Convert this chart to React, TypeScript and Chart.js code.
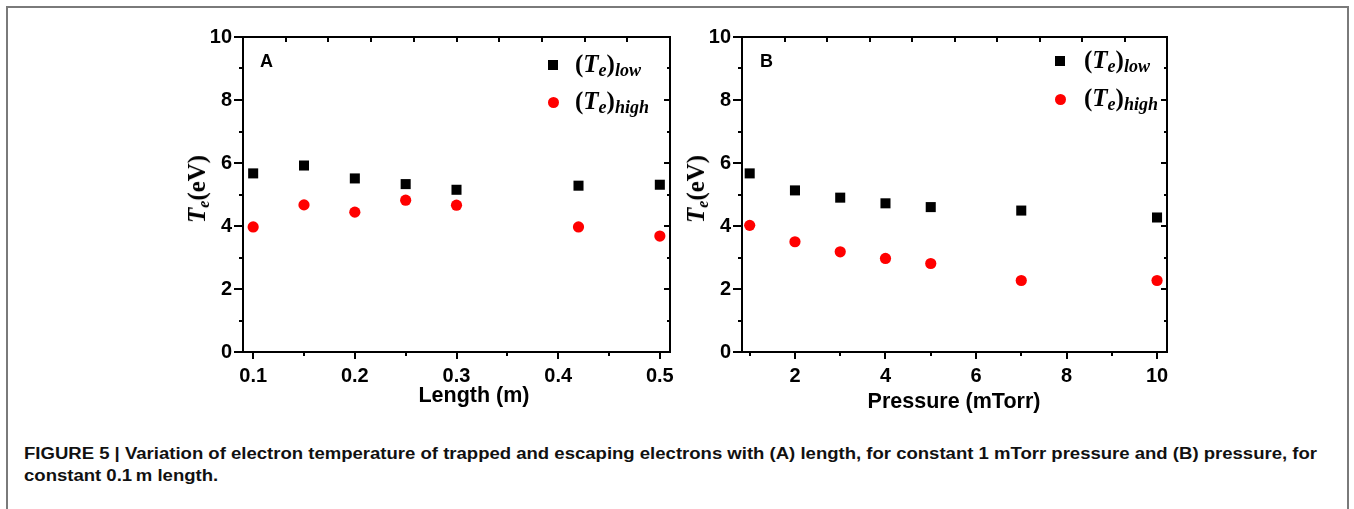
import React, { useEffect, useLayoutEffect, useRef, useState } from 'react';
import { Chart, registerables } from 'chart.js';

Chart.register(...registerables);

// ---------- data ----------
const LENGTH_M = [0.1, 0.15, 0.2, 0.25, 0.3, 0.42, 0.5];
const A_TE_LOW = [5.67, 5.92, 5.51, 5.33, 5.15, 5.28, 5.31];
const A_TE_HIGH = [3.97, 4.67, 4.44, 4.82, 4.66, 3.97, 3.68];

const PRESSURE_MTORR = [1, 2, 3, 4, 5, 7, 10];
const B_TE_LOW = [5.67, 5.13, 4.9, 4.72, 4.6, 4.49, 4.27];
const B_TE_HIGH = [4.02, 3.5, 3.18, 2.97, 2.81, 2.27, 2.27];

const A_X_TICKS = [0.1, 0.2, 0.3, 0.4, 0.5];
const A_X_MINOR = [0.15, 0.25, 0.35, 0.45];
const B_X_TICKS = [2, 4, 6, 8, 10];
const B_X_MINOR = [1, 3, 5, 7, 9];
const Y_TICKS = [0, 2, 4, 6, 8, 10];
const Y_MINOR = [1, 3, 5, 7, 9];
const TOP_DIVISIONS = 10;

const SANS = "'Liberation Sans', Arial, Helvetica, sans-serif";
const SERIF = "'Liberation Serif', 'Times New Roman', serif";

type PanelCfg = {
  xs: number[];
  low: number[];
  high: number[];
  xMin: number;
  xMax: number;
  xTicks: number[];
  xMinor: number[];
  fmt: (v: number) => string;
  yAxisWidth: number;
  padRight: number;
};

function makeFramePlugin(cfg: PanelCfg) {
  return {
    id: 'frameTicks',
    afterDraw(chart: any) {
      const { ctx, chartArea } = chart;
      const { left, right, top, bottom } = chartArea;
      const xs = chart.scales.x;
      const ys = chart.scales.y;
      ctx.save();
      ctx.strokeStyle = '#000';
      ctx.lineWidth = 2;
      ctx.lineCap = 'butt';
      ctx.strokeRect(left, top, right - left, bottom - top);
      const seg = (x1: number, y1: number, x2: number, y2: number) => {
        ctx.beginPath();
        ctx.moveTo(x1, y1);
        ctx.lineTo(x2, y2);
        ctx.stroke();
      };
      for (const v of Y_TICKS) {
        const py = Math.round(ys.getPixelForValue(v));
        seg(left, py, left - 9, py);
        seg(right, py, right - 6, py);
      }
      for (const v of Y_MINOR) {
        const py = Math.round(ys.getPixelForValue(v));
        seg(left, py, left - 4, py);
        seg(right, py, right - 3, py);
      }
      for (const v of cfg.xTicks) {
        const px = Math.round(xs.getPixelForValue(v));
        seg(px, bottom, px, bottom + 7);
      }
      for (const v of cfg.xMinor) {
        const px = Math.round(xs.getPixelForValue(v));
        seg(px, bottom, px, bottom + 4);
      }
      const w = (right - left) / TOP_DIVISIONS;
      for (let k = 1; k < TOP_DIVISIONS; k++) {
        const px = Math.round(left + k * w);
        seg(px, top, px, top + 5);
      }
      ctx.restore();
    },
  };
}

function zeroPadding(s: any) {
  s.paddingTop = 0;
  s.paddingBottom = 0;
  s.paddingLeft = 0;
  s.paddingRight = 0;
}

function buildChart(canvas: HTMLCanvasElement, cfg: PanelCfg) {
  const tickFont = { family: SANS, weight: 'bold' as const, size: 20 };
  return new Chart(canvas, {
    type: 'scatter',
    data: {
      datasets: [
        {
          label: '(Te)low',
          data: cfg.xs.map((x, i) => ({ x, y: cfg.low[i] })),
          pointStyle: 'rect',
          pointRadius: 7.1,
          backgroundColor: '#000000',
          borderColor: '#000000',
          borderWidth: 0,
          showLine: false,
        },
        {
          label: '(Te)high',
          data: cfg.xs.map((x, i) => ({ x, y: cfg.high[i] })),
          pointStyle: 'circle',
          pointRadius: 5.6,
          backgroundColor: '#ff0000',
          borderColor: '#ff0000',
          borderWidth: 0,
          showLine: false,
        },
      ],
    },
    options: {
      animation: false,
      responsive: false,
      maintainAspectRatio: false,
      events: [],
      layout: { padding: { left: 0, top: 17, right: cfg.padRight, bottom: 0 } },
      plugins: { legend: { display: false }, tooltip: { enabled: false } },
      scales: {
        x: {
          type: 'linear',
          position: 'bottom',
          min: cfg.xMin,
          max: cfg.xMax,
          grid: { display: false, drawTicks: false },
          border: { display: false },
          ticks: {
            font: tickFont,
            color: '#000',
            padding: 12,
            maxRotation: 0,
            autoSkip: false,
            callback: (v: any) => cfg.fmt(Number(v)),
          },
          afterBuildTicks: (s: any) => {
            s.ticks = cfg.xTicks.map((v) => ({ value: v }));
          },
          afterFit: (s: any) => {
            s.height = 68;
            zeroPadding(s);
          },
        },
        y: {
          type: 'linear',
          position: 'left',
          min: 0,
          max: 10,
          grid: { display: false, drawTicks: false },
          border: { display: false },
          ticks: {
            font: tickFont,
            color: '#000',
            padding: 11,
            autoSkip: false,
            callback: (v: any) => String(v),
          },
          afterBuildTicks: (s: any) => {
            s.ticks = Y_TICKS.map((v) => ({ value: v }));
          },
          afterFit: (s: any) => {
            s.width = cfg.yAxisWidth;
            zeroPadding(s);
          },
        },
      },
    },
    plugins: [makeFramePlugin(cfg)],
  } as any);
}

const subStyle = (size: number, shift: number): React.CSSProperties => ({
  fontSize: size,
  fontStyle: 'italic',
  position: 'relative',
  top: shift,
});

function TeLegendText({ sub }: { sub: string }) {
  return (
    <span>
      (<span style={{ fontStyle: 'italic' }}>T</span>
      <span style={subStyle(18, 4)}>e</span>)<span style={subStyle(18, 4)}>{sub}</span>
    </span>
  );
}

function Legend({ x, y1, y2, textX }: { x: number; y1: number; y2: number; textX: number }) {
  const fs = 25;
  const textStyle = (baseline: number): React.CSSProperties => ({
    position: 'absolute',
    left: textX,
    top: baseline - 0.891 * fs,
    fontFamily: SERIF,
    fontWeight: 'bold',
    fontSize: fs,
    lineHeight: 'normal',
    whiteSpace: 'nowrap',
    color: '#000',
  });
  return (
    <>
      <div style={{ position: 'absolute', left: x - 5, top: y1 - 5 - 7, width: 10, height: 10, background: '#000' }} />
      <div style={textStyle(y1)}>
        <TeLegendText sub="low" />
      </div>
      <div
        style={{
          position: 'absolute',
          left: x - 5.5,
          top: y2 - 5.5 - 7,
          width: 11,
          height: 11,
          borderRadius: '50%',
          background: '#ff0000',
        }}
      />
      <div style={textStyle(y2)}>
        <TeLegendText sub="high" />
      </div>
    </>
  );
}

function YTitle({ cx, cy }: { cx: number; cy: number }) {
  return (
    <div
      style={{
        position: 'absolute',
        left: cx,
        top: cy,
        transform: 'translate(-50%, -50%) rotate(-90deg)',
        fontFamily: SERIF,
        fontWeight: 'bold',
        fontSize: 25,
        lineHeight: 'normal',
        whiteSpace: 'nowrap',
        color: '#000',
      }}
    >
      <span style={{ fontStyle: 'italic' }}>T</span>
      <span style={subStyle(16, 4)}>e</span>(eV)
    </div>
  );
}

function SansText({
  text,
  left,
  baseline,
  size,
  center,
}: {
  text: string;
  left: number;
  baseline: number;
  size: number;
  center?: boolean;
}) {
  return (
    <div
      style={{
        position: 'absolute',
        left,
        top: baseline - 0.905 * size,
        transform: center ? 'translateX(-50%)' : undefined,
        fontFamily: SANS,
        fontWeight: 'bold',
        fontSize: size,
        lineHeight: 'normal',
        whiteSpace: 'nowrap',
        color: '#000',
      }}
    >
      {text}
    </div>
  );
}

const CAPTION_1 =
  'FIGURE 5 | Variation of electron temperature of trapped and escaping electrons with (A) length, for constant 1 mTorr pressure and (B) pressure, for';
const CAPTION_2 = 'constant 0.1\u2009m length.';

function Caption() {
  const ref1 = useRef<HTMLSpanElement>(null);
  const [scale, setScale] = useState(1);
  useLayoutEffect(() => {
    if (ref1.current) {
      const w = ref1.current.getBoundingClientRect().width;
      if (w > 0) setScale(1293 / w);
    }
  }, []);
  const size = 16;
  const line = (baseline: number): React.CSSProperties => ({
    position: 'absolute',
    left: 24,
    top: baseline - 0.905 * size,
    fontFamily: SANS,
    fontWeight: 'bold',
    fontSize: size,
    lineHeight: 'normal',
    whiteSpace: 'nowrap',
    color: '#111',
    transform: `scaleX(${scale})`,
    transformOrigin: 'left top',
  });
  return (
    <>
      <div style={line(459)}>
        <span ref={ref1}>{CAPTION_1}</span>
      </div>
      <div style={line(481)}>{CAPTION_2}</div>
    </>
  );
}

export default function App() {
  const refA = useRef<HTMLCanvasElement>(null);
  const refB = useRef<HTMLCanvasElement>(null);

  useEffect(() => {
    const a = buildChart(refA.current!, {
      xs: LENGTH_M,
      low: A_TE_LOW,
      high: A_TE_HIGH,
      xMin: 0.09,
      xMax: 0.51,
      xTicks: A_X_TICKS,
      xMinor: A_X_MINOR,
      fmt: (v) => v.toFixed(1),
      yAxisWidth: 73,
      padRight: 10,
    });
    const b = buildChart(refB.current!, {
      xs: PRESSURE_MTORR,
      low: B_TE_LOW,
      high: B_TE_HIGH,
      xMin: 0.83,
      xMax: 10.22,
      xTicks: B_X_TICKS,
      xMinor: B_X_MINOR,
      fmt: (v) => String(Math.round(v)),
      yAxisWidth: 62,
      padRight: 23,
    });
    return () => {
      a.destroy();
      b.destroy();
    };
  }, []);

  return (
    <div
      style={{
        position: 'absolute',
        left: 0,
        top: 0,
        width: 1354,
        height: 509,
        overflow: 'hidden',
        background: '#ffffff',
      }}
    >
      <div
        style={{
          position: 'absolute',
          left: 6,
          top: 6,
          width: 1349 - 6,
          height: 600,
          borderTop: '2px solid #7a7a7a',
          borderLeft: '2px solid #7a7a7a',
          borderRight: '2px solid #7a7a7a',
          boxSizing: 'border-box',
        }}
      />
      <canvas
        ref={refA}
        width={510}
        height={400}
        style={{ position: 'absolute', left: 170, top: 20, width: 510, height: 400 }}
      />
      <canvas
        ref={refB}
        width={510}
        height={400}
        style={{ position: 'absolute', left: 680, top: 20, width: 510, height: 400 }}
      />

      <SansText text="A" left={260} baseline={67} size={18} />
      <SansText text="B" left={760} baseline={67} size={18} />

      <YTitle cx={197} cy={189} />
      <YTitle cx={696} cy={189} />

      <Legend x={553} y1={72} y2={109} textX={575} />
      <Legend x={1060} y1={68} y2={106} textX={1084} />

      <SansText text="Length (m)" left={474} baseline={402} size={21.5} center />
      <SansText text="Pressure (mTorr)" left={954} baseline={408} size={21.5} center />

      <Caption />
    </div>
  );
}
